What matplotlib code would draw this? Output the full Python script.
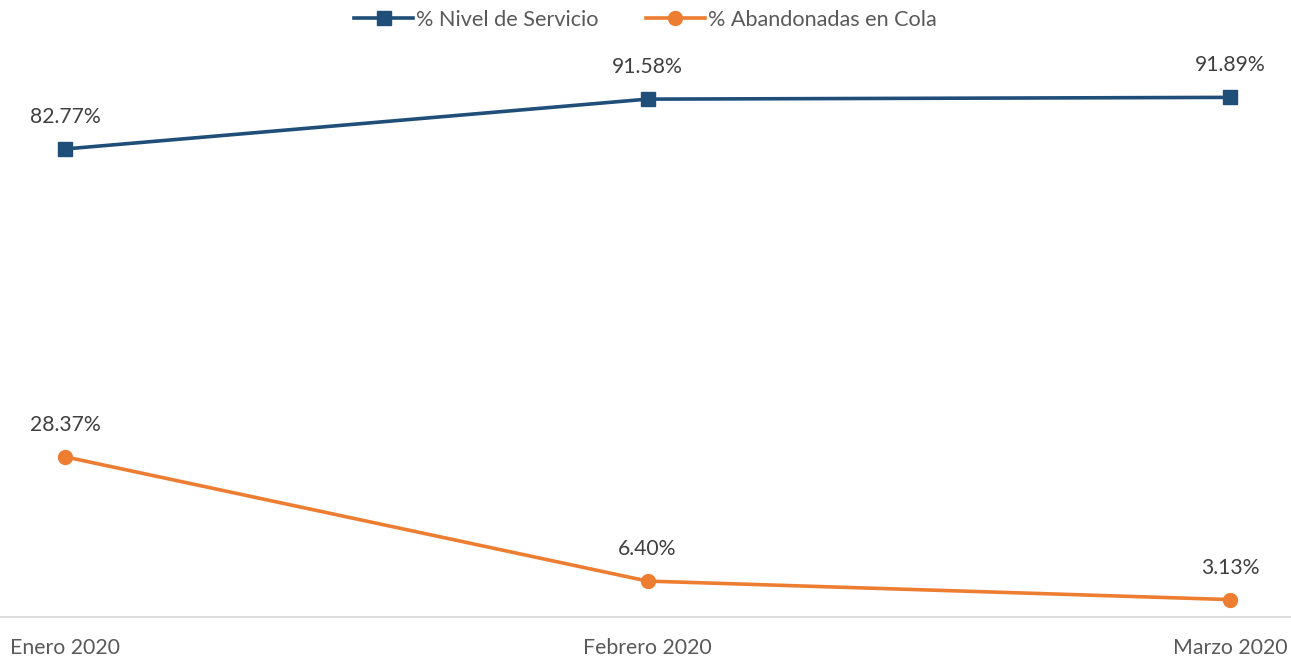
import matplotlib
matplotlib.use("Agg")
import matplotlib.pyplot as plt

categories = ["Enero 2020", "Febrero 2020", "Marzo 2020"]
nivel_servicio = [82.77, 91.58, 91.89]
abandonadas = [28.37, 6.40, 3.13]
series_names = ["% Nivel de Servicio", "% Abandonadas en Cola"]

plt.rcParams['font.family'] = ['Lato', 'DejaVu Sans']

fig = plt.figure(figsize=(12.91, 6.60), dpi=100)
ax = fig.add_axes([0, (660 - 617.3) / 660, 1, 564.4 / 660])

x = list(range(len(categories)))
blue = "#1F4E79"
orange = "#ED7D31"

ax.plot(x, nivel_servicio, color=blue, lw=2.6, marker="s", ms=10, label=series_names[0])
ax.plot(x, abandonadas, color=orange, lw=2.6, marker="o", ms=10, label=series_names[1])

for xs, vals in ((x, nivel_servicio), (x, abandonadas)):
    for xi, v in zip(xs, vals):
        ax.annotate(f"{v:.2f}%", (xi, v), xytext=(0, 23), textcoords="offset points",
                    ha="center", va="center", fontsize=15.2, color="#404040")

ax.set_xlim(-65 / 582.5, 2 + 61 / 582.5)
ax.set_ylim(0, 99.75)
ax.set_xticks(x)
ax.set_xticklabels(categories, fontsize=15.3, color="#595959")
ax.tick_params(axis="x", length=0, pad=15)
ax.set_yticks([])
for s in ("top", "left", "right"):
    ax.spines[s].set_visible(False)
ax.spines["bottom"].set_color("#D9D9D9")
ax.spines["bottom"].set_linewidth(1.3)

leg = fig.legend(loc="center", bbox_to_anchor=(0.5, 1 - 20 / 660), ncol=2, frameon=False,
                 fontsize=15.6, handlelength=2.7, handletextpad=0.15, columnspacing=2.2,
                 labelcolor="#595959")

fig.savefig("out.png", dpi=100)
